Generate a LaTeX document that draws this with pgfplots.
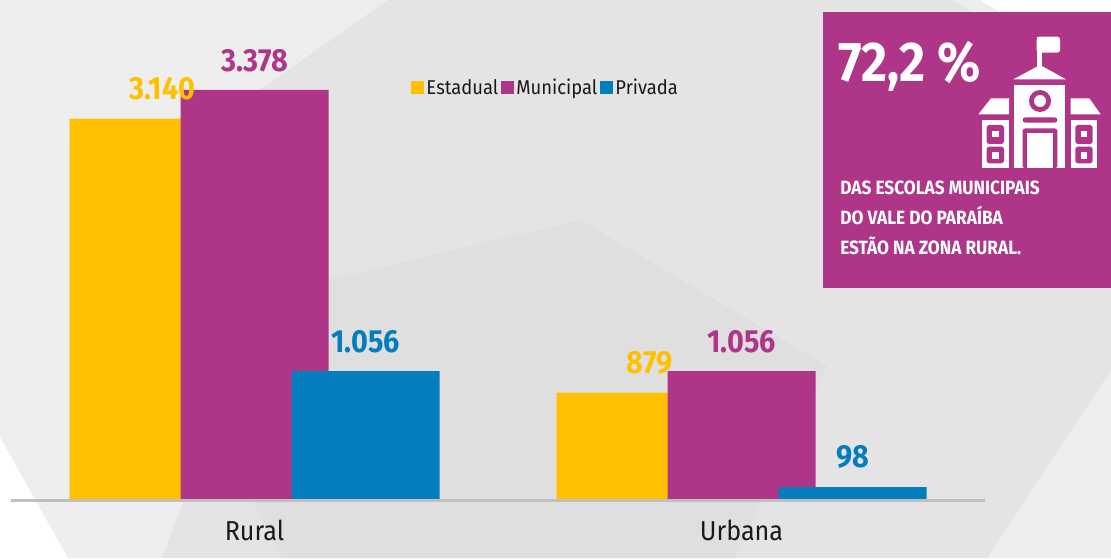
\documentclass[border=0pt]{standalone}
\usepackage{pgfplots}
\pgfplotsset{compat=1.18}
\usepackage{fontspec}
\setmainfont{Fira Sans}
\newfontfamily\numf{Fira Sans}[FakeStretch=0.9,BoldFont=* Bold]
\newfontfamily\txtf{Fira Sans}[FakeStretch=0.92]
\definecolor{cY}{HTML}{FFC000}
\definecolor{cM}{HTML}{AE3588}
\definecolor{cB}{HTML}{047DBF}
\pgfplotstableread{
x v
0 3140
1 879
}\estadual
\pgfplotstableread{
x v
0 3378
1 1056
}\municipal
\pgfplotstableread{
x v
0 1056
1 98
}\privada
\begin{document}
\begin{tikzpicture}
\useasboundingbox (0,0) rectangle (833.25pt,418.5pt);
% background shapes, in reference pixels, y downward
\begin{scope}[x=.75pt,y=-.75pt,shift={(0pt,418.5pt)}]
\fill[white] (0,0) rectangle (1111,558);
\fill[black!6.5] (0,0) -- (980,0) -- (1111,80) -- (1111,558) -- (68,558) -- (0,437) -- cycle;
\fill[black!10.5] (388,0) -- (953,0) -- (1111,100) -- (1111,370) -- (987,558) -- (162,558) -- (183,502) -- (180,146) -- cycle;
\fill[black!12.5] (580,220) -- (827,366) -- (735,558) -- (282,558) -- (253,502) -- (159,320) -- cycle;
\end{scope}
\begin{axis}[
  at={(8.25pt,43pt)}, anchor=south west,
  scale only axis, width=730.5pt, height=375.5pt,
  xmin=-0.5, xmax=1.5, ymin=-14, ymax=4120,
  clip=false,
  axis x line=bottom, axis y line=none,
  x axis line style={-, draw=black!25, line width=2.7pt},
  xtick={0,1}, xticklabels={Rural,Urbana},
  major tick length=0pt,
  tick label style={font=\txtf\fontsize{20.5}{22}\selectfont, text=black!90},
  x tick label style={yshift=-11pt, anchor=north},
  ybar, bar width=111pt,
  nodes near coords,
  /pgf/number format/.cd, 1000 sep={.}, assume math mode=true, /pgfplots/.cd,
  nodes near coords style={font=\numf\bfseries\fontsize{24}{24}\selectfont, inner sep=0pt, anchor=south, yshift=13.5pt},
  legend columns=-1,
  legend style={at={(0.4107,0.825)}, anchor=west, draw=none, fill=none, inner sep=0pt, outer sep=0pt,
    font=\txtf\fontsize{15}{16}\selectfont, text=black!90,
    /tikz/every even column/.style={column sep=0pt}},
]
\addplot[fill=cY, draw=none, bar shift=-83.25pt, every node near coord/.append style={text=cY, xshift=14.25pt},
  legend image code/.code={\fill[cY] (0pt,-4.7pt) rectangle (9.6pt,4.7pt);}] table[x=x,y=v] {\estadual};
\addlegendentry{Estadual}
\addplot[fill=cM, draw=none, bar shift=0pt, every node near coord/.append style={text=cM},
  legend image code/.code={\fill[cM] (0pt,-4.7pt) rectangle (9.6pt,4.7pt);}] table[x=x,y=v] {\municipal};
\addlegendentry{Municipal}
\addplot[fill=cB, draw=none, bar shift=83.25pt, every node near coord/.append style={text=cB},
  legend image code/.code={\fill[cB] (0pt,-4.7pt) rectangle (9.6pt,4.7pt);}] table[x=x,y=v] {\privada};
\addlegendentry{Privada}
\end{axis}
% call-out box
\begin{scope}[x=.75pt,y=-.75pt,shift={(0pt,418.5pt)}]
\fill[cM] (823,12) rectangle (1111,288);
\node[anchor=base west, inner sep=0pt, text=white, font=\numf\bfseries\fontsize{42}{42}\selectfont] at (838,82) {72,2 \%};
\node[anchor=base west, inner sep=0pt, text=white, font=\numf\bfseries\fontsize{14.4}{15}\selectfont] at (840,195) {DAS ESCOLAS MUNICIPAIS};
\node[anchor=base west, inner sep=0pt, text=white, font=\numf\bfseries\fontsize{14.4}{15}\selectfont] at (840,225) {DO VALE DO PARAÍBA};
\node[anchor=base west, inner sep=0pt, text=white, font=\numf\bfseries\fontsize{14.4}{15}\selectfont] at (840,255) {ESTÃO NA ZONA RURAL.};
\end{scope}
% school icon, in 3x zoom coordinates
\begin{scope}[x=.25pt,y=-.25pt,shift={(607.5pt,418.5pt)}]
\fill[white, rounded corners=2pt] (680,110) rectangle (750,158);
\fill[white] (680,110) rectangle (697,200);
\fill[white] (610,238) -- (690,195) -- (768,238) -- cycle;
\fill[white] (612,255) rectangle (766,505);
\fill[white] (505,343) -- (543,295) -- (597,295) -- (597,343) -- cycle;
\fill[white] (782,295) -- (838,295) -- (872,343) -- (782,343) -- cycle;
\fill[white] (516,360) rectangle (597,505);
\fill[white] (782,360) rectangle (862,505);
\fill[cM] (690,303) circle[radius=33];
\fill[white] (690,303) circle[radius=18];
\fill[cM, rounded corners=2pt] (638,352) rectangle (742,368);
\fill[cM, rounded corners=2pt] (638,385) rectangle (742,505);
\fill[white] (652,400) rectangle (728,505);
\foreach \wx in {530,796}{
  \fill[cM, rounded corners=2pt] (\wx,375) rectangle ++(52,57);
  \fill[white] (\wx+16,392) rectangle ++(20,20);
  \fill[cM, rounded corners=2pt] (\wx,440) rectangle ++(52,50);
  \fill[white] (\wx+16,456) rectangle ++(20,20);
}
\end{scope}
\end{tikzpicture}
\end{document}
